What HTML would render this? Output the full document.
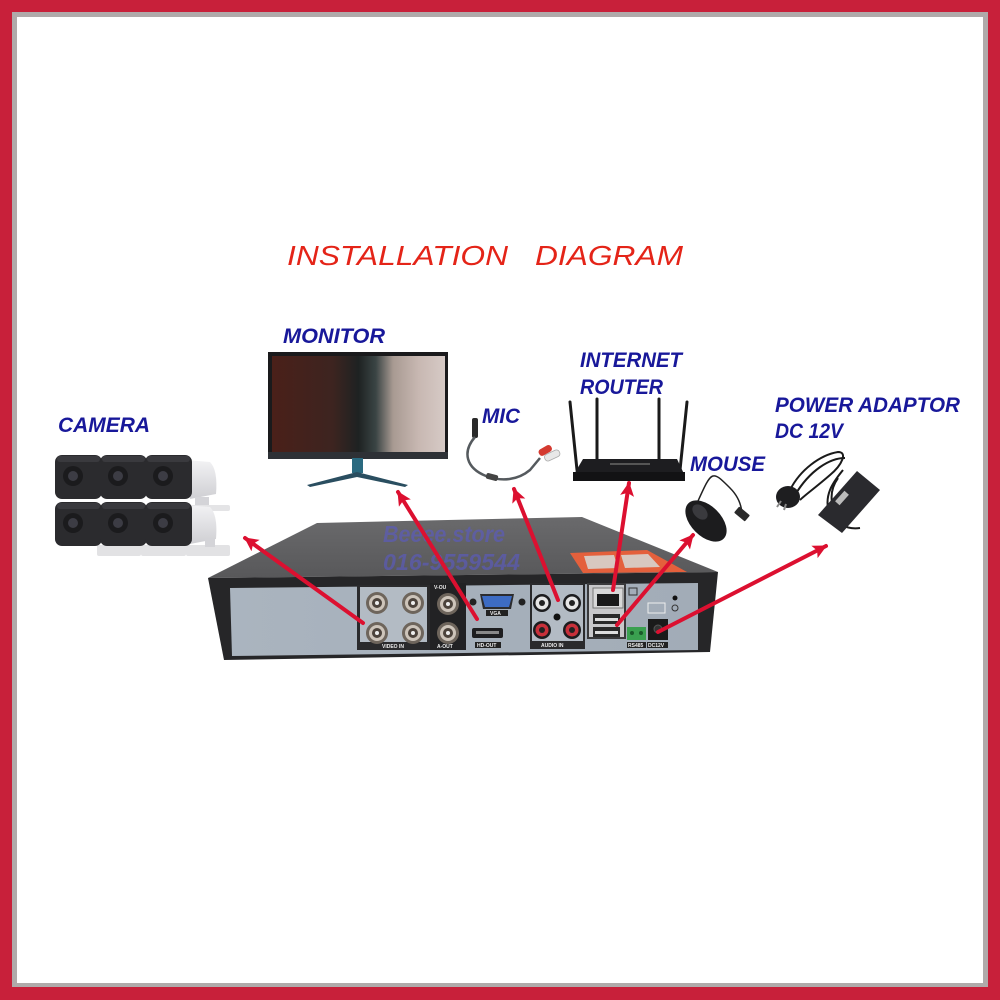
<!DOCTYPE html>
<html>
<head>
<meta charset="utf-8">
<style>
  html,body{margin:0;padding:0;background:#fff;}
  body{width:1000px;height:1000px;overflow:hidden;}
  svg{display:block;}
  .lbl{font-family:"Liberation Sans",sans-serif;font-weight:bold;font-style:italic;font-size:21px;fill:#18189a;}
  .ttl{font-family:"Liberation Sans",sans-serif;font-style:italic;font-size:28px;fill:#e42418;}
  .wm{font-family:"Liberation Sans",sans-serif;font-weight:bold;font-style:italic;font-size:23px;fill:#5a5ac8;fill-opacity:0.6;}
  .tiny{font-family:"Liberation Sans",sans-serif;font-weight:bold;font-size:5px;fill:#eee;}
  .tinyd{font-family:"Liberation Sans",sans-serif;font-weight:bold;font-size:5px;fill:#333;}
</style>
</head>
<body>
<svg width="1000" height="1000" viewBox="0 0 1000 1000" xmlns="http://www.w3.org/2000/svg">
  <defs>
    <linearGradient id="screen" x1="0" y1="0" x2="1" y2="0">
      <stop offset="0" stop-color="#4a2019"/>
      <stop offset="0.35" stop-color="#3d2420"/>
      <stop offset="0.5" stop-color="#1e2222"/>
      <stop offset="0.6" stop-color="#3a4444"/>
      <stop offset="0.7" stop-color="#a89a92"/>
      <stop offset="0.85" stop-color="#c8b8b2"/>
      <stop offset="1" stop-color="#d6cac6"/>
    </linearGradient>
    <linearGradient id="top" x1="0" y1="0" x2="0" y2="1">
      <stop offset="0" stop-color="#6a6a6c"/>
      <stop offset="1" stop-color="#58585a"/>
    </linearGradient>
    <linearGradient id="panel" x1="0" y1="0" x2="1" y2="0">
      <stop offset="0" stop-color="#aab4bf"/>
      <stop offset="1" stop-color="#a2acb7"/>
    </linearGradient>
    <linearGradient id="camwhite" x1="0" y1="0" x2="0" y2="1">
      <stop offset="0" stop-color="#f2f2f4"/>
      <stop offset="1" stop-color="#cfcfd3"/>
    </linearGradient>
    <marker id="ah" markerWidth="16" markerHeight="16" refX="13" refY="7" orient="auto" markerUnits="userSpaceOnUse">
      <path d="M0,0 L14,7 L0,14 L3,7 Z" fill="#dc1030"/>
    </marker>
  </defs>

  <!-- border -->
  <rect x="0" y="0" width="1000" height="1000" fill="#c8203a"/>
  <rect x="12" y="12" width="976" height="975" fill="#b0aaaa"/>
  <rect x="17" y="17" width="966" height="966" fill="#ffffff"/>

  <!-- title -->
  <text class="ttl" x="287" y="265" textLength="221" lengthAdjust="spacingAndGlyphs">INSTALLATION</text>
  <text class="ttl" x="535" y="265" textLength="148" lengthAdjust="spacingAndGlyphs">DIAGRAM</text>

  <!-- labels -->
  <text class="lbl" x="283" y="343" textLength="102" lengthAdjust="spacingAndGlyphs">MONITOR</text>
  <text class="lbl" x="58" y="432" textLength="92" lengthAdjust="spacingAndGlyphs">CAMERA</text>
  <text class="lbl" x="482" y="423" textLength="38" lengthAdjust="spacingAndGlyphs">MIC</text>
  <text class="lbl" x="580" y="367" textLength="102" lengthAdjust="spacingAndGlyphs">INTERNET</text>
  <text class="lbl" x="580" y="394" textLength="83" lengthAdjust="spacingAndGlyphs">ROUTER</text>
  <text class="lbl" x="775" y="412" textLength="185" lengthAdjust="spacingAndGlyphs">POWER ADAPTOR</text>
  <text class="lbl" x="775" y="438" textLength="68" lengthAdjust="spacingAndGlyphs">DC 12V</text>
  <text class="lbl" x="690" y="471" textLength="75" lengthAdjust="spacingAndGlyphs">MOUSE</text>

  <!-- monitor -->
  <rect x="268" y="352" width="180" height="107" fill="#1a1a1c"/>
  <rect x="272" y="356" width="173" height="96" fill="url(#screen)"/>
  <rect x="268" y="452" width="180" height="7" fill="#2e3136"/>
  <rect x="352" y="458" width="11" height="15" fill="#2a6a80"/>
  <path d="M357,472 L307,485 L310,487 L357,477 L405,487 L408,485 Z" fill="#2a4e60"/>

  <!-- cameras -->
  <g>
    <path d="M185,460 L210,462 Q218,470 216,494 L190,499 Z" fill="url(#camwhite)"/>
    <rect x="195" y="497" width="14" height="10" fill="#d4d4d8"/>
    <rect x="188" y="505" width="42" height="6" rx="2" fill="#e4e4e6"/>
    <path d="M185,505 L210,507 Q218,515 216,539 L190,544 Z" fill="url(#camwhite)"/>
    <rect x="97" y="545" width="44" height="11" rx="2" fill="#e2e2e4"/>
    <rect x="141" y="545" width="45" height="11" rx="2" fill="#e2e2e4"/>
    <rect x="186" y="545" width="44" height="11" rx="2" fill="#e2e2e4"/>
    <rect x="205" y="538" width="10" height="9" fill="#d4d4d8"/>
    <g fill="#2b2b2e">
      <rect x="55" y="455" width="47" height="44" rx="7"/>
      <rect x="100" y="455" width="47" height="44" rx="7"/>
      <rect x="145" y="455" width="47" height="44" rx="7"/>
      <rect x="55" y="502" width="47" height="44" rx="7"/>
      <rect x="100" y="502" width="47" height="44" rx="7"/>
      <rect x="145" y="502" width="47" height="44" rx="7"/>
    </g>
    <g fill="#3a3a3e">
      <rect x="57" y="456" width="43" height="6" rx="3"/>
      <rect x="102" y="456" width="43" height="6" rx="3"/>
      <rect x="147" y="456" width="43" height="6" rx="3"/>
      <rect x="57" y="503" width="43" height="6" rx="3"/>
      <rect x="102" y="503" width="43" height="6" rx="3"/>
      <rect x="147" y="503" width="43" height="6" rx="3"/>
    </g>
    <g fill="#1b1b1d">
      <circle cx="73" cy="476" r="10"/><circle cx="118" cy="476" r="10"/><circle cx="163" cy="476" r="10"/>
      <circle cx="73" cy="523" r="10"/><circle cx="118" cy="523" r="10"/><circle cx="163" cy="523" r="10"/>
    </g>
    <g fill="#3c3c44">
      <circle cx="73" cy="476" r="5"/><circle cx="118" cy="476" r="5"/><circle cx="163" cy="476" r="5"/>
      <circle cx="73" cy="523" r="5"/><circle cx="118" cy="523" r="5"/><circle cx="163" cy="523" r="5"/>
    </g>
  </g>

  <!-- mic -->
  <rect x="472" y="418" width="6" height="20" rx="2" fill="#2a2a2a"/>
  <path d="M475,437 C462,452 466,468 486,476 C502,482 518,480 530,470 L540,458" fill="none" stroke="#555a5e" stroke-width="2.5"/>
  <rect x="486" y="474" width="12" height="6" rx="2" fill="#444" transform="rotate(15 492 477)"/>
  <rect x="538" y="447" width="14" height="7" rx="3" fill="#d43a30" transform="rotate(-30 545 450)"/>
  <rect x="544" y="452" width="16" height="7" rx="3" fill="#e8e8e8" stroke="#aaa" stroke-width="0.8" transform="rotate(-25 552 455)"/>

  <!-- router -->
  <g stroke="#1a1a1a" stroke-width="3" stroke-linecap="round">
    <line x1="570" y1="402" x2="577" y2="470"/>
    <line x1="597" y1="399" x2="597" y2="460"/>
    <line x1="659" y1="399" x2="659" y2="460"/>
    <line x1="687" y1="402" x2="680" y2="470"/>
  </g>
  <path d="M583,459 L677,459 L685,476 L573,476 Z" fill="#1d1d20"/>
  <rect x="573" y="472" width="112" height="9" fill="#121214"/>
  <rect x="610" y="463" width="40" height="2" fill="#555"/>

  <!-- mouse -->
  <path d="M698,501 C712,470 712,470 730,488 C740,498 742,508 742,516" fill="none" stroke="#222" stroke-width="1.5"/>
  <rect x="735" y="510" width="14" height="8" rx="1" fill="#2a2a2a" transform="rotate(40 742 514)"/>
  <ellipse cx="706" cy="521" rx="25" ry="15" fill="#1c1c1e" transform="rotate(45 706 521)"/>
  <ellipse cx="700" cy="512" rx="9" ry="6" fill="#3a3a3e" transform="rotate(45 700 512)"/>

  <!-- power adaptor -->
  <g fill="none" stroke="#1a1a1a" stroke-width="2">
    <path d="M790,490 C800,470 820,455 838,452 C848,452 842,465 830,475 C815,488 805,495 800,500"/>
    <path d="M795,495 C810,470 830,458 845,458"/>
    <path d="M843,470 C835,480 822,495 830,515 C835,522 845,530 860,528"/>
    <path d="M838,478 C828,492 830,510 842,520"/>
  </g>
  <path d="M818,515 L857,471 L880,490 L842,533 Z" fill="#2a2a2e"/>
  <rect x="835" y="495" width="14" height="6" fill="#bbb" transform="rotate(-48 842 498)"/>
  <ellipse cx="788" cy="497" rx="12" ry="11" fill="#1e1e20"/>
  <line x1="781" y1="501" x2="777" y2="507" stroke="#888" stroke-width="2"/>
  <line x1="786" y1="504" x2="784" y2="510" stroke="#888" stroke-width="2"/>

  <!-- DVR -->
  <path d="M317,523 L582,517 L718,572 L208,578 Z" fill="url(#top)"/>
  <path d="M208,578 L718,572 L710,652 L224,660 Z" fill="#262628"/>
  <path d="M230,588 L698,583 L698,650 L232,656 Z" fill="url(#panel)"/>
  <!-- sticker -->
  <path d="M570,553 L647,550 L687,572 L583,573 Z" fill="#e4603c"/>
  <path d="M584,556 L614,555 L618,568 L588,569 Z" fill="#d8c8c0"/>
  <path d="M621,555 L648,554 L660,567 L625,568 Z" fill="#d8c8c0"/>

  <!-- video in -->
  <rect x="357" y="585" width="73" height="65" fill="#2a2a2c"/>
  <rect x="360" y="587" width="67" height="55" fill="#b3bbc4"/>
  <text class="tiny" x="382" y="648">VIDEO IN</text>
  <g>
    <g transform="translate(377,603)"><circle r="11" fill="#6e655c"/><circle r="8" fill="#cdc4ba"/><circle r="5" fill="#4c433c"/><circle r="2" fill="#eee"/></g>
    <g transform="translate(413,603)"><circle r="11" fill="#6e655c"/><circle r="8" fill="#cdc4ba"/><circle r="5" fill="#4c433c"/><circle r="2" fill="#eee"/></g>
    <g transform="translate(377,633)"><circle r="11" fill="#6e655c"/><circle r="8" fill="#cdc4ba"/><circle r="5" fill="#4c433c"/><circle r="2" fill="#eee"/></g>
    <g transform="translate(413,633)"><circle r="11" fill="#6e655c"/><circle r="8" fill="#cdc4ba"/><circle r="5" fill="#4c433c"/><circle r="2" fill="#eee"/></g>
  </g>

  <!-- V-OUT / A-OUT -->
  <rect x="430" y="583" width="36" height="67" fill="#222224"/>
  <text class="tiny" x="434" y="589">V-OU</text>
  <text class="tiny" x="437" y="648">A-OUT</text>
  <g transform="translate(448,604)"><circle r="11" fill="#6e655c"/><circle r="8" fill="#cdc4ba"/><circle r="5" fill="#4c433c"/><circle r="2" fill="#eee"/></g>
  <g transform="translate(448,633)"><circle r="11" fill="#6e655c"/><circle r="8" fill="#cdc4ba"/><circle r="5" fill="#4c433c"/><circle r="2" fill="#eee"/></g>

  <!-- VGA / HDMI -->
  <circle cx="473" cy="602" r="3.5" fill="#222"/>
  <circle cx="522" cy="602" r="3.5" fill="#222"/>
  <path d="M480,594 L514,594 L511,609 L483,609 Z" fill="#2c2c2e"/>
  <path d="M482,596 L512,596 L509,607 L485,607 Z" fill="#3d6cc4"/>
  <rect x="486" y="610" width="22" height="6" fill="#222"/>
  <text class="tiny" x="490" y="615">VGA</text>
  <rect x="472" y="628" width="31" height="10" rx="2" fill="#1e1e20"/>
  <rect x="476" y="631" width="23" height="3" fill="#888"/>
  <rect x="475" y="642" width="26" height="6" fill="#222"/>
  <text class="tiny" x="477" y="647">HD-OUT</text>

  <!-- audio in -->
  <rect x="530" y="583" width="55" height="66" fill="#2a2a2c"/>
  <rect x="532" y="585" width="51" height="56" fill="#b3bbc4"/>
  <text class="tiny" x="541" y="647">AUDIO IN</text>
  <g transform="translate(542,603)"><circle r="9" fill="#1c1c1e"/><circle r="6.5" fill="#e6e6e6"/><circle r="3" fill="#222"/></g>
  <g transform="translate(572,603)"><circle r="9" fill="#1c1c1e"/><circle r="6.5" fill="#e6e6e6"/><circle r="3" fill="#222"/></g>
  <g transform="translate(542,630)"><circle r="9" fill="#1c1c1e"/><circle r="6.5" fill="#c8303a"/><circle r="3" fill="#222"/></g>
  <g transform="translate(572,630)"><circle r="9" fill="#1c1c1e"/><circle r="6.5" fill="#c8303a"/><circle r="3" fill="#222"/></g>
  <circle cx="557" cy="617" r="3.5" fill="#111"/>

  <!-- network / usb -->
  <rect x="587" y="583" width="39" height="56" fill="#3a3a3c"/>
  <rect x="589" y="585" width="35" height="52" fill="#c8c8ca"/>
  <rect x="593" y="588" width="30" height="20" fill="#d8d8d8" stroke="#777" stroke-width="1"/>
  <rect x="597" y="594" width="22" height="12" fill="#1a1a1a"/>
  <rect x="593" y="614" width="27" height="10" fill="#2a2a2a"/>
  <rect x="595" y="618" width="23" height="3" fill="#ddd"/>
  <rect x="593" y="627" width="27" height="10" fill="#2a2a2a"/>
  <rect x="595" y="631" width="23" height="3" fill="#ddd"/>
  <rect x="629" y="588" width="8" height="7" fill="none" stroke="#333" stroke-width="1"/>

  <!-- rs485 / dc -->
  <rect x="627" y="627" width="19" height="13" fill="#3aa050"/>
  <circle cx="632" cy="633" r="2" fill="#1a5a2a"/><circle cx="641" cy="633" r="2" fill="#1a5a2a"/>
  <rect x="627" y="642" width="19" height="6" fill="#222"/>
  <text class="tiny" x="628" y="647">RS485</text>
  <rect x="648" y="603" width="17" height="10" fill="none" stroke="#eee" stroke-width="1"/>
  <rect x="648" y="619" width="20" height="21" fill="#1a1a1a"/>
  <circle cx="658" cy="629" r="4" fill="#333" stroke="#555"/>
  <rect x="647" y="642" width="21" height="6" fill="#222"/>
  <text class="tiny" x="648" y="647">DC12V</text>
  <circle cx="675" cy="598" r="2.5" fill="#111"/>
  <circle cx="675" cy="608" r="3" fill="none" stroke="#333" stroke-width="1"/>

  <!-- watermark -->
  <text class="wm" x="383" y="542" textLength="122" lengthAdjust="spacingAndGlyphs">Beeee.store</text>
  <text class="wm" x="383" y="570" textLength="137" lengthAdjust="spacingAndGlyphs">016-9559544</text>

  <!-- arrows -->
  <g stroke="#dc1030" stroke-width="4" stroke-linecap="round" marker-end="url(#ah)" fill="none">
    <line x1="363" y1="623" x2="245" y2="538"/>
    <line x1="477" y1="619" x2="398" y2="492"/>
    <line x1="558" y1="600" x2="514" y2="489"/>
    <line x1="613" y1="590" x2="629" y2="483"/>
    <line x1="617" y1="625" x2="693" y2="535"/>
    <line x1="658" y1="632" x2="826" y2="546"/>
  </g>
</svg>
</body>
</html>
